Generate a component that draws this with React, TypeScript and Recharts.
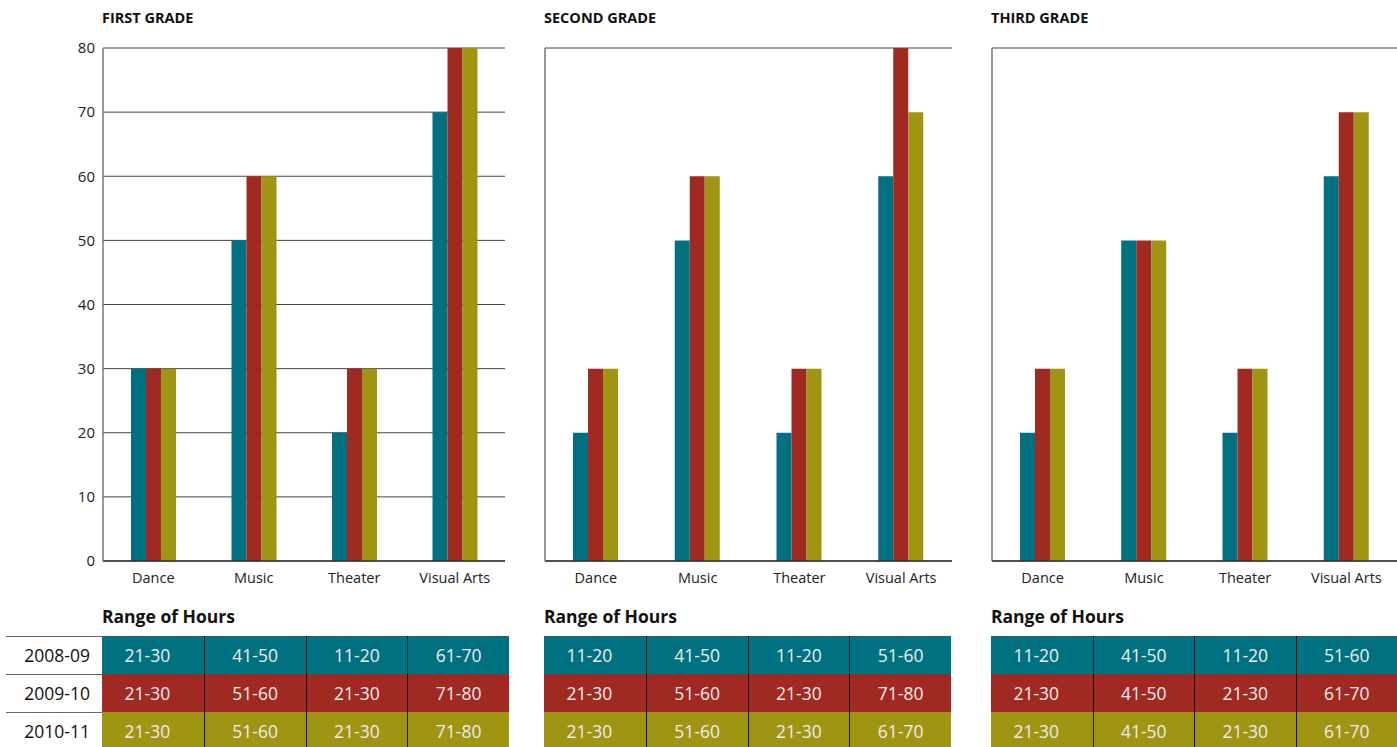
import React from 'react';
import { BarChart, Bar, XAxis, YAxis, CartesianGrid } from 'recharts';

const categories = ['Dance', 'Music', 'Theater', 'Visual Arts'];
const years = ['2008-09', '2009-10', '2010-11'];
const yTicks = [0, 10, 20, 30, 40, 50, 60, 70, 80];

const firstGrade0809 = [30, 50, 20, 70];
const firstGrade0910 = [30, 60, 30, 80];
const firstGrade1011 = [30, 60, 30, 80];

const secondGrade0809 = [20, 50, 20, 60];
const secondGrade0910 = [30, 60, 30, 80];
const secondGrade1011 = [30, 60, 30, 70];

const thirdGrade0809 = [20, 50, 20, 60];
const thirdGrade0910 = [30, 50, 30, 70];
const thirdGrade1011 = [30, 50, 30, 70];

const firstRanges0809 = ['21-30', '41-50', '11-20', '61-70'];
const firstRanges0910 = ['21-30', '51-60', '21-30', '71-80'];
const firstRanges1011 = ['21-30', '51-60', '21-30', '71-80'];

const secondRanges0809 = ['11-20', '41-50', '11-20', '51-60'];
const secondRanges0910 = ['21-30', '51-60', '21-30', '71-80'];
const secondRanges1011 = ['21-30', '51-60', '21-30', '61-70'];

const thirdRanges0809 = ['11-20', '41-50', '11-20', '51-60'];
const thirdRanges0910 = ['21-30', '41-50', '21-30', '61-70'];
const thirdRanges1011 = ['21-30', '41-50', '21-30', '61-70'];

const COLORS = ['#007180', '#A02A22', '#9F9513'];
const FONT = '"Open Sans", "Noto Sans", sans-serif';

const build = (a: number[], b: number[], c: number[]) =>
  categories.map((name, i) => ({ name, y0809: a[i], y0910: b[i], y1011: c[i] }));

type PanelProps = {
  title: string;
  data: any[];
  ranges: string[][];
  chartLeft: number;
  chartWidth: number;
  axisWidth: number;
  showYTicks: boolean;
  plotLeft: number;
  tableWidth: number;
  showRowLabels: boolean;
};

const Panel = ({ title, data, ranges, chartLeft, chartWidth, axisWidth, showYTicks, plotLeft, tableWidth, showRowLabels }: PanelProps) => {
  const rowH = 38;
  const tableTop = 636;
  const colW = tableWidth / 4;
  return (
    <>
      <div style={{ position: 'absolute', left: plotLeft - 1, top: 8, fontFamily: FONT, fontWeight: 700, fontSize: 14.5, color: '#111' }}>
        {title}
      </div>
      <div style={{ position: 'absolute', left: chartLeft, top: 0 }}>
        <BarChart
          width={chartWidth}
          height={600}
          data={data}
          margin={{ top: 48, right: 0, left: 0, bottom: 9 }}
          barGap={0}
          barSize={15}
        >
          <CartesianGrid vertical={false} stroke="#444" strokeWidth={1} />
          <XAxis
            dataKey="name"
            height={30}
            axisLine={{ stroke: '#333', strokeWidth: 1.5 }}
            tickLine={false}
            tickSize={10}
            tick={{ fontFamily: FONT, fontSize: 14.5, fill: '#222' }}
            interval={0}
          />
          <YAxis
            width={axisWidth}
            domain={[0, 80]}
            ticks={yTicks}
            interval={0}
            axisLine={{ stroke: '#777', strokeWidth: 1.5 }}
            tickLine={false}
            tick={showYTicks ? { fontFamily: FONT, fontSize: 15, fill: '#222' } : false}
          />
          <Bar dataKey="y0809" fill={COLORS[0]} isAnimationActive={false} />
          <Bar dataKey="y0910" fill={COLORS[1]} isAnimationActive={false} />
          <Bar dataKey="y1011" fill={COLORS[2]} isAnimationActive={false} />
        </BarChart>
      </div>
      <div style={{ position: 'absolute', left: plotLeft - 1, top: 604, fontFamily: FONT, fontWeight: 700, fontSize: 17.5, color: '#111' }}>
        Range of Hours
      </div>
      {showRowLabels &&
        years.map((y, r) => (
          <div
            key={y}
            style={{
              position: 'absolute',
              left: 6,
              top: tableTop + r * rowH,
              width: plotLeft - 6 - 1,
              height: rowH,
              borderTop: '1.5px solid #666',
              boxSizing: 'border-box',
              fontFamily: FONT,
              fontSize: 17.5,
              color: '#111',
              textAlign: 'right',
              paddingRight: 12,
              lineHeight: rowH - 2 + 'px',
            }}
          >
            {y}
          </div>
        ))}
      {ranges.map((row, r) =>
        row.map((txt, c) => (
          <div
            key={r + '-' + c}
            style={{
              position: 'absolute',
              left: plotLeft - 1 + c * colW,
              top: tableTop + r * rowH,
              width: colW,
              height: rowH,
              background: COLORS[r],
              borderLeft: c > 0 ? '1px solid #111' : 'none',
              paddingRight: c === 0 ? 11 : 0,
              boxSizing: 'border-box',
              fontFamily: FONT,
              fontSize: 17.5,
              color: '#EDEDED',
              textAlign: 'center',
              lineHeight: rowH + 'px',
            }}
          >
            {txt}
          </div>
        ))
      )}
    </>
  );
};

export default function App() {
  return (
    <div style={{ position: 'absolute', left: 0, top: 0, width: 1397, height: 747, overflow: 'hidden', background: '#fff' }}>
      <Panel
        title="FIRST GRADE"
        data={build(firstGrade0809, firstGrade0910, firstGrade1011)}
        ranges={[firstRanges0809, firstRanges0910, firstRanges1011]}
        chartLeft={0}
        chartWidth={505}
        axisWidth={103}
        showYTicks={true}
        plotLeft={103}
        tableWidth={407}
        showRowLabels={true}
      />
      <Panel
        title="SECOND GRADE"
        data={build(secondGrade0809, secondGrade0910, secondGrade1011)}
        ranges={[secondRanges0809, secondRanges0910, secondRanges1011]}
        chartLeft={505}
        chartWidth={447}
        axisWidth={40}
        showYTicks={false}
        plotLeft={545}
        tableWidth={407}
        showRowLabels={false}
      />
      <Panel
        title="THIRD GRADE"
        data={build(thirdGrade0809, thirdGrade0910, thirdGrade1011)}
        ranges={[thirdRanges0809, thirdRanges0910, thirdRanges1011]}
        chartLeft={952}
        chartWidth={445}
        axisWidth={40}
        showYTicks={false}
        plotLeft={992}
        tableWidth={406}
        showRowLabels={false}
      />
    </div>
  );
}
